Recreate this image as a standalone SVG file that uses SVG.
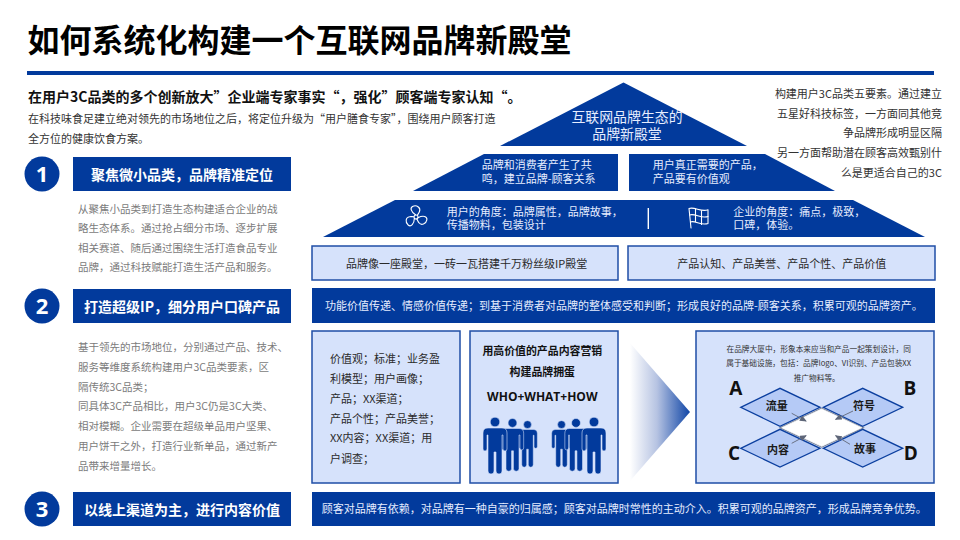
<svg xmlns="http://www.w3.org/2000/svg" xmlns:xlink="http://www.w3.org/1999/xlink" width="960" height="540" viewBox="0 0 960 540">
<style>
text{font-family:"Noto Sans CJK SC","Noto Sans",sans-serif}
.blue{fill:#023a9c}
.light{fill:#d6e2fb;stroke:#1f4ea6;stroke-width:1.5}
.h{font-size:14px;font-weight:700;fill:#fff;text-anchor:middle}
.num{font-family:"Open Sans","Noto Sans",sans-serif;font-size:22px;font-weight:700;fill:#fff;text-anchor:middle}
.g{font-size:10.5px;fill:#7b7b7b}
.d{font-size:11px;fill:#333}
.w{font-size:11px;fill:#e6edff}
.dk{font-size:11px;fill:#2a2a2a;text-anchor:middle}
.t{font-size:7.7px;fill:#333;text-anchor:middle}
.dia{fill:#b5caf6;stroke:#0b3f9f;stroke-width:1.3}
.dl{font-size:11px;font-weight:700;fill:#1a1a1a;text-anchor:middle}
.L{font-family:"Open Sans","Noto Sans",sans-serif;font-size:19px;font-weight:700;fill:#111;text-anchor:middle}
.ic{fill:none;stroke:#fff;stroke-width:1.1;stroke-linejoin:round;stroke-linecap:round}
.arr{fill:none;stroke:#6a7285;stroke-width:1;marker-end:url(#ah)}
.pp{fill:#023a9c;stroke:#d6e2fb;stroke-width:.6}
</style>
<defs>
<linearGradient id="fade" x1="0" x2="1" y1="0" y2="0"><stop offset="0" stop-color="#fff"/><stop offset=".45" stop-color="#b6c3e2"/><stop offset="1" stop-color="#0f45a6"/></linearGradient>
<marker id="ah" markerWidth="7" markerHeight="6" refX="6" refY="3" orient="auto" markerUnits="userSpaceOnUse"><path d="M0,0L7,3L0,6Z" fill="#5e6678"/></marker>
<path id="blade" d="M-0.5,-2.2C-5,-5 -6.5,-9.5 -3,-10.8C1,-12.2 5,-9 3.5,-5.5C3,-4 2,-3 1.4,-1.8"/>
<g id="person"><circle cx="0" cy="-6" r="4.8"/><path d="M-7,0H7Q12,0 12,5V21a2,2 0 0 1 -4,0V7H7V43a3,3 0 0 1 -6,0V24H-1V43a3,3 0 0 1 -6,0V7H-8V21a2,2 0 0 1 -4,0V5Q-12,0 -7,0Z"/></g>
</defs>
<rect width="960" height="540" fill="#fff"/>

<g id="header">
<text x="27.5" y="52" font-size="32" font-weight="700" fill="#000">如何系统化构建一个互联网品牌新殿堂</text>
<rect x="27" y="71" width="907" height="4" class="blue"/>
<text x="28" y="102" font-size="14" font-weight="700" fill="#111">在用户3C品类的多个创新放大”企业端专家事实“，强化”顾客端专家认知“。</text>
<text x="28" y="123" class="d">在科技味食足建立绝对领先的市场地位之后，将定位升级为“用户膳食专家”，围绕用户顾客打造</text>
<text x="28" y="143" class="d">全方位的健康饮食方案。</text>
</g>

<g id="step1">
<circle cx="42" cy="174" r="17.5" class="blue"/><text x="42" y="182" class="num">1</text>
<rect x="73" y="157" width="218" height="34" class="blue"/><text x="182" y="179.5" class="h">聚焦微小品类，品牌精准定位</text>
<text class="g"><tspan x="78" y="212.5">从聚焦小品类到打造生态构建适合企业的战</tspan><tspan x="78" y="232">略生态体系。通过抢占细分市场、逐步扩展</tspan><tspan x="78" y="251.5">相关赛道、随后通过围绕生活打造食品专业</tspan><tspan x="78" y="271">品牌，通过科技赋能打造生活产品和服务。</tspan></text>
</g>
<g id="step2">
<circle cx="42" cy="306" r="17.5" class="blue"/><text x="42" y="314" class="num">2</text>
<rect x="73" y="289" width="218" height="34" class="blue"/><text x="182" y="311.5" class="h">打造超级IP，细分用户口碑产品</text>
<text class="g"><tspan x="78" y="351.3">基于领先的市场地位，分别通过产品、技术、</tspan><tspan x="78" y="371">服务等维度系统构建用户3C品类要素，区</tspan><tspan x="78" y="390.6">隔传统3C品类；</tspan><tspan x="78" y="410.4">同具体3C产品相比，用户3C仍是3C大类、</tspan><tspan x="78" y="430.2">相对模糊。企业需要在超级单品用户坚果、</tspan><tspan x="78" y="450">用户饼干之外，打造行业新单品，通过新产</tspan><tspan x="78" y="470">品带来增量增长。</tspan></text>
</g>
<g id="step3">
<circle cx="42" cy="509" r="17.5" class="blue"/><text x="42" y="517" class="num">3</text>
<rect x="73" y="492" width="218" height="34" class="blue"/><text x="182" y="514.5" class="h">以线上渠道为主，进行内容价值</text>
</g>

<g id="right-note" text-anchor="end">
<text x="942" y="98" class="d">构建用户3C品类五要素。通过建立</text>
<text x="942" y="117.7" class="d">五星好科技标签，一方面同其他竞</text>
<text x="942" y="137" class="d">争品牌形成明显区隔</text>
<text x="942" y="157" class="d">另一方面帮助潜在顾客高效甄别什</text>
<text x="942" y="176.7" class="d">么是更适合自己的3C</text>
</g>

<g id="pyramid-top">
<path d="M623.5,82.5L747,146H500Z" class="blue"/>
<text x="627" y="122" font-size="13.9" fill="#e6edff" text-anchor="middle">互联网品牌生态的</text>
<text x="627" y="139" font-size="13.9" fill="#e6edff" text-anchor="middle">品牌新殿堂</text>
</g>
<g id="pyramid-mid-left">
<path d="M484,154H618V191H413Z" class="blue"/>
<text class="w"><tspan x="481.7" y="169">品牌和消费者产生了共</tspan><tspan x="481.7" y="183">鸣，建立品牌-顾客关系</tspan></text>
</g>
<g id="pyramid-mid-right">
<path d="M629,154H765L835,191H629Z" class="blue"/>
<text class="w"><tspan x="652.7" y="169">用户真正需要的产品，</tspan><tspan x="652.7" y="183">产品要有价值观</tspan></text>
</g>
<g id="pyramid-base">
<path d="M395,200H853L925,237H323Z" class="blue"/>
<text class="w"><tspan x="446.7" y="216">用户的角度：品牌属性，品牌故事，</tspan><tspan x="446.7" y="229">传播物料，包装设计</tspan></text>
<text class="w"><tspan x="733.3" y="216">企业的角度：痛点，极致，</tspan><tspan x="733.3" y="229">口碑，体验。</tspan></text>
<rect x="647.6" y="208" width="1.4" height="21" fill="#fff"/>
<g class="ic" transform="translate(416,217)"><circle r="2"/><use xlink:href="#blade" href="#blade"/><use xlink:href="#blade" href="#blade" transform="rotate(120)"/><use xlink:href="#blade" href="#blade" transform="rotate(240)"/></g>
<g class="ic"><path d="M689,208.5L691,228M689,208.5C695,206.5 701,212.5 708,209.8V223.5C701,226 695,220 690.5,222"/><path d="M689.6,215C695,213 701,219 708,216.5"/><path d="M695.5,208.8V221.5M701.5,210.8V224.5"/></g>
</g>

<g id="box-hall"><rect x="312" y="246" width="306" height="34" class="light"/><text x="466.7" y="268.2" class="dk">品牌像一座殿堂，一砖一瓦搭建千万粉丝级IP殿堂</text></g>
<g id="box-product"><rect x="628" y="246" width="307" height="34" class="light"/><text x="781.7" y="268.2" class="dk">产品认知、产品美誉、产品个性、产品价值</text></g>
<g id="band-1"><rect x="312" y="288" width="623" height="35" class="blue"/><text x="325" y="310" class="w">功能价值传递、情感价值传递；到基于消费者对品牌的整体感受和判断；形成良好的品牌-顾客关系，积累可观的品牌资产。</text></g>

<g id="box-values"><rect x="312" y="331" width="148" height="152" class="light"/>
<text font-size="11" fill="#2a2a2a"><tspan x="330" y="363">价值观；标准；业务盈</tspan><tspan x="330" y="383">利模型；用户画像；</tspan><tspan x="330" y="402.7">产品；XX渠道；</tspan><tspan x="330" y="422.7">产品个性；产品美誉；</tspan><tspan x="330" y="442">XX内容；XX渠道；用</tspan><tspan x="330" y="462.7">户调查；</tspan></text></g>

<g id="box-moat"><rect x="470" y="331" width="148" height="152" class="light"/>
<text x="542.3" y="355" font-size="10.9" font-weight="700" fill="#111" text-anchor="middle">用高价值的产品内容营销</text>
<text x="542.3" y="375.7" font-size="10.9" font-weight="700" fill="#111" text-anchor="middle">构建品牌拥蛋</text>
<text x="542.3" y="401" font-size="12" font-weight="700" fill="#111" text-anchor="middle" style="font-family:'Open Sans','Noto Sans',sans-serif">WHO+WHAT+HOW</text>
<g class="pp">
<use xlink:href="#person" href="#person" transform="translate(527.5,429.5) scale(.82)"/>
<use xlink:href="#person" href="#person" transform="translate(512.5,428.5) scale(.93)"/>
<use xlink:href="#person" href="#person" transform="translate(495,428)"/>
<use xlink:href="#person" href="#person" transform="translate(561.5,429.5) scale(.82)"/>
<use xlink:href="#person" href="#person" transform="translate(576,428.5) scale(.93)"/>
<use xlink:href="#person" href="#person" transform="translate(594,428)"/>
</g></g>

<polygon id="big-arrow" points="630,343 690,412 630,481" fill="url(#fade)"/>

<g id="box-abcd"><rect x="696" y="331" width="238" height="152" class="light"/>
<text class="t"><tspan x="818.7" y="351.5">在品牌大厦中，形象本来应当和产品一起策划设计，同</tspan><tspan x="818.7" y="366">属于基础设施，包括：品牌logo、VI识别、产品包装XX</tspan><tspan x="816.7" y="380.5">推广物料等。</tspan></text>
</g>
<g id="center-diamond"><path d="M781.7,427.7L821.7,409L861.7,427.7L821.7,446.3Z" fill="#fff" stroke="#7d8699" stroke-width="2.6"/><path d="M781.7,427.7L821.7,409L861.7,427.7L821.7,446.3Z" fill="#fff" stroke="#fff" stroke-width=".8"/></g>
<g id="node-a"><path d="M740.7,407.3L780,388.3L820,407.3L780,426.3Z" class="dia"/><text x="776.7" y="410" class="dl">流量</text><text x="735.7" y="394.5" class="L">A</text></g>
<g id="node-b"><path d="M823.3,407.3L862.7,388.3L902.7,407.3L862.7,426.3Z" class="dia"/><text x="864" y="409.5" class="dl">符号</text><text x="910" y="394.5" class="L">B</text></g>
<g id="node-c"><path d="M740.7,448.3L780,429.3L820,448.3L780,467Z" class="dia"/><text x="778" y="453.5" class="dl">内容</text><text x="734" y="460" class="L">C</text></g>
<g id="node-d"><path d="M823.3,448.3L862.7,429.3L902.7,448.3L862.7,467Z" class="dia"/><text x="865" y="453" class="dl">故事</text><text x="910.7" y="460" class="L">D</text></g>
<g id="connectors">
<path d="M791.7,413.3L806,421" class="arr"/>
<path d="M853,411L835.7,419.3" class="arr"/>
<path d="M791.7,443.3L806,435.7" class="arr"/>
<path d="M850,444.3L835.7,435.7" class="arr"/>
</g>

<g id="band-2"><rect x="312" y="492" width="623" height="34" class="blue"/><text x="321.7" y="513" class="w">顾客对品牌有依赖，对品牌有一种自豪的归属感；顾客对品牌时常性的主动介入。积累可观的品牌资产，形成品牌竞争优势。</text></g>
</svg>
